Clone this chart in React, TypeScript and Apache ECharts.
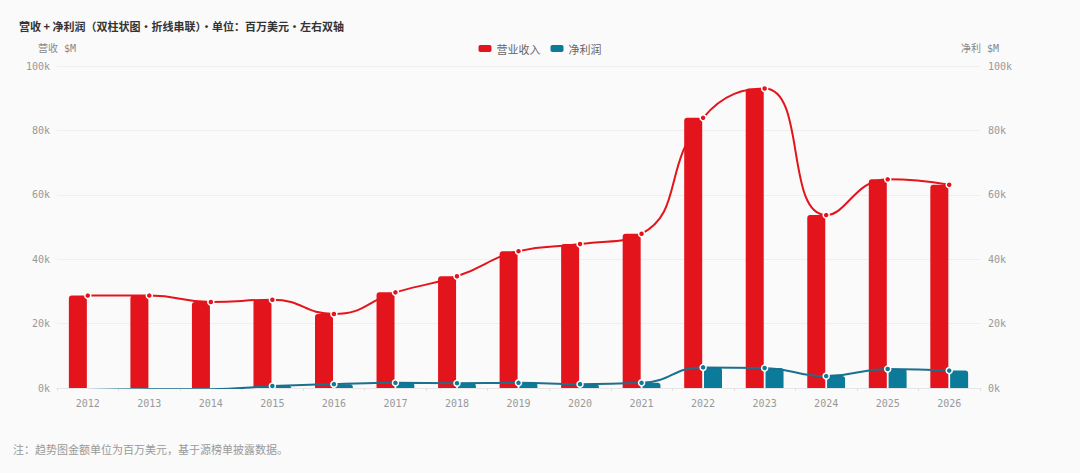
import { useEffect, useRef } from 'react';
import * as echarts from 'echarts';

const years = ['2012', '2013', '2014', '2015', '2016', '2017', '2018', '2019', '2020', '2021', '2022', '2023', '2024', '2025', '2026'];
const revenue = [28700, 28700, 26700, 27400, 23000, 29700, 34700, 42500, 44700, 47900, 83900, 93000, 53700, 64800, 63100];
const netIncome = [-600, -400, -400, 600, 1200, 1600, 1500, 1600, 1200, 1600, 6400, 6200, 3700, 5900, 5400];
const axisTicks = [0, 20000, 40000, 60000, 80000, 100000];

const RED = '#e3141c';
const BLUE = '#0b7b99';
const BLUE_LINE = '#1c6f8d';
const MONO = '"DejaVu Sans Mono", "Noto Sans CJK SC", monospace';
const CJK = '"Noto Sans CJK SC", "Noto Sans", sans-serif';

export default function App() {
  const chartRef = useRef<HTMLDivElement>(null);

  useEffect(() => {
    document.body.style.margin = '0';
    if (!chartRef.current) return;
    const chart = echarts.init(chartRef.current, undefined, { renderer: 'svg' });

    const yAxisBase = {
      type: 'value' as const,
      min: axisTicks[0],
      max: axisTicks[axisTicks.length - 1],
      interval: axisTicks[1] - axisTicks[0],
      nameLocation: 'end' as const,
      nameGap: 13,
      nameTextStyle: { color: '#888', fontSize: 10, fontFamily: MONO },
      axisLine: { show: false },
      axisTick: { show: false },
      axisLabel: {
        color: '#999',
        fontSize: 10,
        fontFamily: MONO,
        margin: 7,
        formatter: (v: number) => `${v / 1000}k`,
      },
    };

    const dotStyle = (color: string) => ({
      color,
      borderColor: '#fff',
      borderWidth: 1.5,
    });

    chart.setOption({
      animation: false,
      backgroundColor: '#fafafa',
      title: {
        text: '营收 + 净利润（双柱状图·折线串联）·单位：百万美元·左右双轴',
        left: 14,
        top: 15,
        textStyle: { color: '#333', fontSize: 11, fontWeight: 'bold', fontFamily: CJK },
      },
      graphic: [
        {
          type: 'text',
          left: 13,
          top: 443,
          style: {
            text: '注：趋势图金额单位为百万美元，基于源榜单披露数据。',
            fill: '#999',
            fontSize: 11,
            fontFamily: CJK,
          },
        },
      ],
      legend: {
        data: ['营业收入', '净利润'],
        left: 'center',
        top: 38,
        icon: 'roundRect',
        itemWidth: 13,
        itemHeight: 7,
        itemGap: 10,
        textStyle: { color: '#666', fontSize: 11, fontFamily: CJK },
      },
      grid: { left: 57, right: 100, top: 66, bottom: 85 },
      xAxis: {
        type: 'category',
        data: years,
        axisLine: { lineStyle: { color: '#e6e6e6' } },
        axisTick: { show: true, length: 3, lineStyle: { color: '#e0e0e0' } },
        axisLabel: { color: '#999', fontSize: 10, fontFamily: MONO, margin: 10 },
      },
      yAxis: [
        {
          ...yAxisBase,
          name: '营收 $M',
          position: 'left',
          splitLine: { lineStyle: { color: '#efefef' } },
        },
        {
          ...yAxisBase,
          name: '净利 $M',
          position: 'right',
          splitLine: { show: false },
          axisLabel: { ...yAxisBase.axisLabel, margin: 8 },
        },
      ],
      series: [
        {
          name: '营业收入',
          type: 'bar',
          yAxisIndex: 0,
          data: revenue,
          barWidth: 18,
          barGap: '10%',
          itemStyle: { color: RED, borderRadius: [3, 3, 0, 0] },
        },
        {
          name: '净利润',
          type: 'bar',
          yAxisIndex: 1,
          data: netIncome,
          barWidth: 18,
          barGap: '10%',
          itemStyle: { color: BLUE, borderRadius: [3, 3, 0, 0] },
        },
        {
          name: '营业收入',
          type: 'line',
          yAxisIndex: 0,
          data: revenue,
          smooth: true,
          symbol: 'circle',
          symbolSize: 6,
          lineStyle: { color: RED, width: 2 },
          itemStyle: dotStyle(RED),
        },
        {
          name: '净利润',
          type: 'line',
          yAxisIndex: 1,
          data: netIncome,
          smooth: true,
          symbol: 'circle',
          symbolSize: 6,
          lineStyle: { color: BLUE_LINE, width: 2 },
          itemStyle: dotStyle(BLUE),
        },
      ],
    });

    return () => {
      chart.dispose();
    };
  }, []);

  return <div ref={chartRef} style={{ width: 1080, height: 473 }} />;
}
